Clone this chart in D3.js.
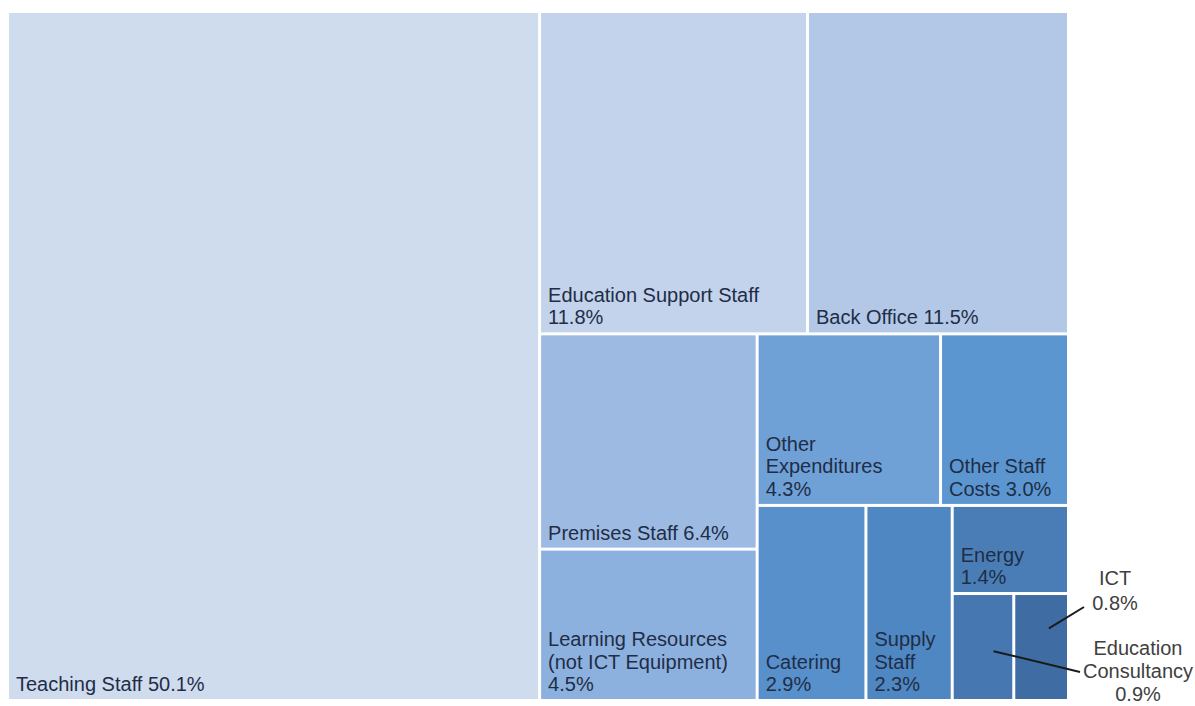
<!DOCTYPE html>
<html>
<head>
<meta charset="utf-8">
<script src="https://cdn.jsdelivr.net/npm/d3@7"></script>
<style>
	body { margin: 0; background: #fff; }
	text { font-family: 'Liberation Sans', Arial, sans-serif; }
</style>
</head>
<body>
<div id="chart"></div>
<script>
// spending categories, share of total (%)
var categories = [
	'Teaching Staff',
	'Education Support Staff',
	'Back Office',
	'Premises Staff',
	'Learning Resources (not ICT Equipment)',
	'Other Expenditures',
	'Other Staff Costs',
	'Catering',
	'Supply Staff',
	'Energy',
	'Education Consultancy',
	'ICT'
];
var values = [ 50.1, 11.8, 11.5, 6.4, 4.5, 4.3, 3.0, 2.9, 2.3, 1.4, 0.9, 0.8 ];

// the smallest three are tiled together in the bottom-right block
var smallGroup = [ 'Energy', 'Education Consultancy', 'ICT' ];

// cells too small for a label get a callout outside the plot
var callouts = [ 'ICT', 'Education Consultancy' ];

var palette = [
	'#cfdcee', '#c2d3eb', '#b2c8e6', '#9dbbe2', '#8db1de', '#6fa1d7',
	'#5c96d0', '#5890cb', '#4f87c3', '#4a7db6', '#4677b0', '#3f6ca2'
];

var W = 1195,
	H = 706;
var margin = { top: 13, left: 9 },
	width = 1058,
	height = 686;

var svg = d3
	.select('#chart')
	.append('svg')
	.attr('width', W)
	.attr('height', H)
	.append('g')
	.attr('transform', 'translate(' + margin.left + ',' + margin.top + ')');

// build hierarchy
var children = [];
var group = { name: 'small', children: [] };
categories.forEach(function(c, i) {
	var leaf = { name: c, value: values[i], idx: i };
	if (smallGroup.indexOf(c) >= 0) group.children.push(leaf);
	else children.push(leaf);
});
children.push(group);

var root = d3.hierarchy({ name: 'root', children: children }).sum(function(d) {
	return d.value || 0;
});

d3
	.treemap()
	.tile(d3.treemapSquarify.ratio(1))
	.size([ width, height ])
	.paddingInner(3)
	.paddingOuter(0)(root);

var leaves = root.leaves();

var cell = svg.selectAll('.cell').data(leaves).enter().append('g').attr('class', 'cell');

cell
	.append('rect')
	.attr('x', function(d) {
		return d.x0;
	})
	.attr('y', function(d) {
		return d.y0;
	})
	.attr('width', function(d) {
		return d.x1 - d.x0;
	})
	.attr('height', function(d) {
		return d.y1 - d.y0;
	})
	.attr('fill', function(d) {
		return palette[d.data.idx];
	});

var fontSize = 20,
	lineH = 22.5,
	padX = 7,
	padBottom = 8;

function labelText(d) {
	return d.data.name + ' ' + d3.format('.1f')(d.data.value) + '%';
}

// wrap words into lines that fit the cell width
function wrapLines(textSel, words, maxW) {
	var lines = [],
		line = [];
	var probe = textSel.append('tspan');
	words.forEach(function(w) {
		var test = line.concat([ w ]).join(' ');
		probe.text(test);
		if (probe.node().getComputedTextLength() > maxW && line.length) {
			lines.push(line.join(' '));
			line = [ w ];
		} else {
			line.push(w);
		}
	});
	if (line.length) lines.push(line.join(' '));
	probe.remove();
	return lines;
}

cell
	.filter(function(d) {
		return callouts.indexOf(d.data.name) < 0;
	})
	.append('text')
	.attr('font-size', fontSize)
	.attr('fill', '#1f2d47')
	.each(function(d) {
		var t = d3.select(this);
		var lines = wrapLines(t, labelText(d).split(' '), d.x1 - d.x0 - 2 * padX);
		var n = lines.length;
		lines.forEach(function(l, i) {
			t
				.append('tspan')
				.attr('x', d.x0 + padX)
				.attr('y', d.y1 - padBottom - (n - 1 - i) * lineH)
				.text(l);
		});
	});

// outside callouts with leader lines (positions relative to the plot group)
var calloutSpec = {
	ICT: { from: [ 0.65, 0.32 ], to: [ 1075, 594 ], label: [ 1106, 572 ], gap: 24.5, lines: [ 'ICT', '0.8%' ] },
	'Education Consultancy': {
		from: [ 0.68, 0.54 ],
		to: [ 1071, 659 ],
		label: [ 1129, 642 ],
		gap: 23,
		lines: [ 'Education', 'Consultancy', '0.9%' ]
	}
};

leaves
	.filter(function(d) {
		return callouts.indexOf(d.data.name) >= 0;
	})
	.forEach(function(d) {
		var s = calloutSpec[d.data.name];
		var fx = d.x0 + s.from[0] * (d.x1 - d.x0),
			fy = d.y0 + s.from[1] * (d.y1 - d.y0);
		svg
			.append('line')
			.attr('x1', fx)
			.attr('y1', fy)
			.attr('x2', s.to[0])
			.attr('y2', s.to[1])
			.attr('stroke', '#1a1a1a')
			.attr('stroke-width', 2);
		var t = svg
			.append('text')
			.attr('font-size', fontSize)
			.attr('fill', '#404040')
			.attr('text-anchor', 'middle');
		s.lines.forEach(function(l, i) {
			t.append('tspan').attr('x', s.label[0]).attr('y', s.label[1] + i * s.gap).text(l);
		});
	});
</script>
</body>
</html>
